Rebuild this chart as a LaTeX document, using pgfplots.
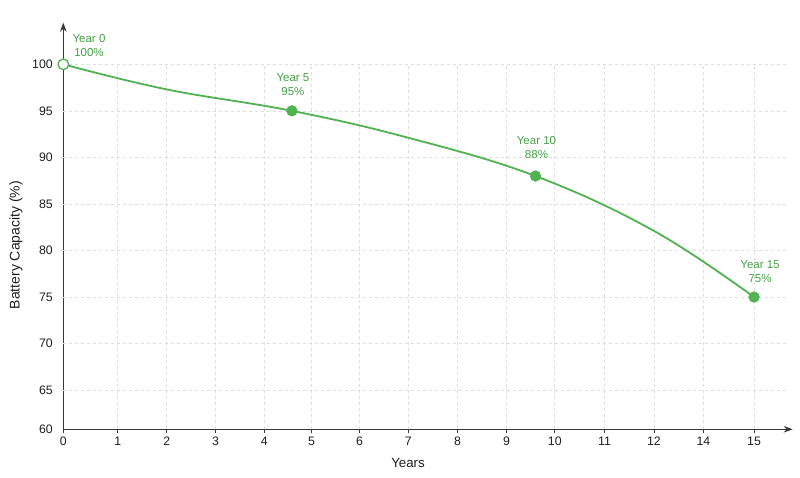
\documentclass[border=0pt]{standalone}
\usepackage{pgfplots}
\pgfplotsset{compat=1.18}
\usepackage{fontspec}
\setmainfont{Liberation Sans}
\usetikzlibrary{arrows.meta}

\definecolor{linegreen}{RGB}{80,178,80}
\definecolor{labelgreen}{RGB}{70,160,70}
\definecolor{gridgray}{RGB}{222,222,222}
\definecolor{axisgray}{RGB}{55,55,55}
\definecolor{textgray}{RGB}{30,30,30}

\tikzset{
  lbl/.style={align=center, text=labelgreen, font=\fontsize{11.5}{14}\selectfont},
  gridline/.style={gridgray, line width=0.7pt, dash pattern=on 3pt off 3pt},
}

\begin{document}
\begin{tikzpicture}
  \useasboundingbox (-63.3pt,-48.7pt) rectangle (736.7pt,429.3pt);
  \begin{axis}[
    scale only axis,
    width=729.4pt,
    height=406.6pt,
    xmin=0, xmax=15.84,
    ymin=60.8, ymax=104.47,
    axis lines=left,
    axis line style={axisgray, line width=1pt, -{Stealth[length=9pt,width=6.5pt]}},
    xtick={0,1.183,2.248,3.304,4.363,5.391,6.435,7.493,8.559,9.624,10.674,11.754,12.826,13.9,15},
    xticklabels={0,1,2,3,4,5,6,7,8,9,10,11,12,14,15},
    ytick={60.8,65,70,75,80,85,90,95,100},
    yticklabels={60,65,70,75,80,85,90,95,100},
    tick align=outside,
    major tick length=4pt,
    xtick style={axisgray, line width=0.8pt},
    ytick style={draw=none},
    ticklabel style={font=\fontsize{12.3}{14}\selectfont, text=textgray},
    yticklabel style={xshift=-3pt},
    /pgf/number format/assume math mode=true,
    xlabel={Years},
    ylabel={Battery Capacity (\%)},
    xlabel style={at={(rel axis cs:0.4726,0)}, anchor=center, yshift=-33.7pt,
      font=\fontsize{13.3}{15}\selectfont, text=textgray},
    ylabel style={at={(rel axis cs:0,0.453)}, anchor=center, yshift=47.3pt,
      font=\fontsize{14}{15}\selectfont, text=textgray},
    clip=false,
  ]

    % grid, kept inside the data range
    \pgfplotsinvokeforeach{1.183,2.248,3.304,4.363,5.391,6.435,7.493,8.559,9.624,10.674,11.754,12.826,13.9,15}{
      \draw[gridline] (axis cs:#1,60.8) -- (axis cs:#1,100);
    }
    \pgfplotsinvokeforeach{65,70,75,80,85,90,95,100}{
      \draw[gridline] (axis cs:0,#1) -- (axis cs:15.7,#1);
    }

    % capacity curve
    \addplot[linegreen, line width=1.8pt, smooth, tension=0.65, mark=none] coordinates {
      (0,100) (2.25,97.3) (4.965,95) (7.5,92.1) (10.254,88) (12.83,82.1) (15,75)
    };

    \addplot[only marks, mark=*, mark size=5.4pt, draw=linegreen, fill=linegreen] coordinates {
      (4.965,95) (10.254,88) (15,75)
    };
    \addplot[only marks, mark=*, mark size=5.3pt, draw=linegreen, fill=white, line width=1.3pt] coordinates {
      (0,100)
    };

    \node[lbl, xshift=25.7pt, yshift=19pt] at (axis cs:0,100) {Year 0\\100\%};
    \node[lbl, xshift=1pt, yshift=26.5pt] at (axis cs:4.965,95) {Year 5\\95\%};
    \node[lbl, xshift=1pt, yshift=28.3pt] at (axis cs:10.254,88) {Year 10\\88\%};
    \node[lbl, xshift=6pt, yshift=25.7pt] at (axis cs:15,75) {Year 15\\75\%};

  \end{axis}
\end{tikzpicture}
\end{document}
